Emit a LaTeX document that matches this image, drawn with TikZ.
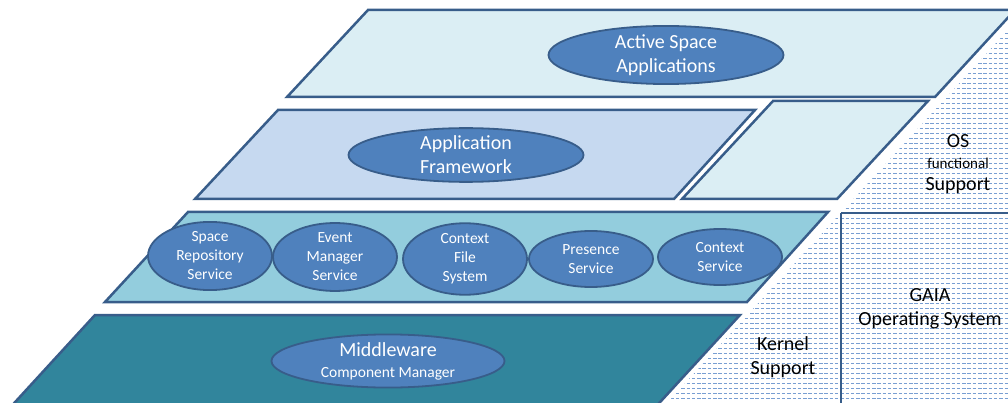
\documentclass[tikz,border=0pt]{standalone}
\usepackage{fontspec}
\setmainfont{Carlito}
\usetikzlibrary{shapes.geometric}
\definecolor{cEdge}{RGB}{56,93,138}
\definecolor{cOval}{RGB}{79,129,189}
\definecolor{cTop}{RGB}{219,238,244}
\definecolor{cFrame}{RGB}{198,217,240}
\definecolor{cServ}{RGB}{147,205,221}
\definecolor{cMid}{RGB}{49,133,156}
\definecolor{cDots}{RGB}{120,158,210}
\tikzset{
	layer/.style   ={draw=cEdge, line width=2.5pt, line join=miter},
	oval/.style    ={ellipse, draw=cEdge, line width=1.8pt, fill=cOval, text=white, inner sep=0pt, align=center},
	bigoval/.style ={oval, minimum width=235pt, minimum height=53pt, font=\fontsize{20}{24}\selectfont},
	svcoval/.style ={oval, minimum width=124pt, minimum height=56pt, font=\fontsize{15.5}{19}\selectfont},
	ostext/.style  ={align=center, font=\fontsize{20}{24}\selectfont},
	divider/.style ={draw=cEdge, line width=2.5pt},
	dotline/.style ={cDots, line width=0.9pt, dash pattern=on 3.5pt off 1.8pt},
}

\begin{document}
\begin{tikzpicture}[x=1pt, y=-1pt]
	\useasboundingbox (0,0) rectangle (1008,403);
	\clip (0,0) rectangle (1008,403);
	% layers
	\filldraw[layer, fill=cTop]   (368,10) -- (1015,10) -- (935,97) -- (287,97) -- cycle;
	\filldraw[layer, fill=cFrame] (278,110) -- (755,110) -- (674,199) -- (195,199) -- cycle;
	\filldraw[layer, fill=cTop]   (773,101) -- (928,101) -- (837,199) -- (682,199) -- cycle;
	\filldraw[layer, fill=cServ]  (188,212) -- (828,212) -- (747,302) -- (105,302) -- cycle;
	\filldraw[layer, fill=cMid]   (95,315) -- (740,315) -- (651,412) -- (6,412) -- cycle;
	% os side
	\begin{scope}
		\clip (1008,30) -- (667,403) -- (1008,403) -- cycle;
		\foreach \yy in {28,33,...,408}
			\draw[dotline] (660,\yy) -- (1010,\yy);
	\end{scope}
	\coordinate (split) at (841,213);
	\coordinate (splitr) at (1010,213);
	\coordinate (splitb) at (841,406);
	\draw[divider] (split) -- (splitr);
	\draw[divider] (split) -- (splitb);
	\node[ostext] (ossup) at (958,164) {OS\\[-3pt]{\fontsize{15}{18}\selectfont functional}\\[-2pt]Support};
	\node[ostext] (gaia) at (930,309) {GAIA\\Operating System};
	\node[ostext] (kernel) at (783,357) {Kernel\\Support};
	% ovals
	\node[bigoval] (apps) at (666,55) {Active Space\\Applications};
	\node[bigoval] (frame) at (466,155) {Application\\Framework};
	\node[svcoval] (repo) at (210,256) {Space\\Repository\\Service};
	\node[svcoval] (event) at (335,257) {Event\\Manager\\Service};
	\node[svcoval] (cfs) at (465,259) {Context\\File\\System};
	\node[svcoval] (pres) at (591,259) {Presence\\Service};
	\node[svcoval] (ctx) at (720,257) {Context\\Service};
	\node[bigoval, minimum width=233pt] (mid) at (388,361) {Middleware\\[-3pt]{\fontsize{15.5}{19}\selectfont Component Manager}};
\end{tikzpicture}
\end{document}
